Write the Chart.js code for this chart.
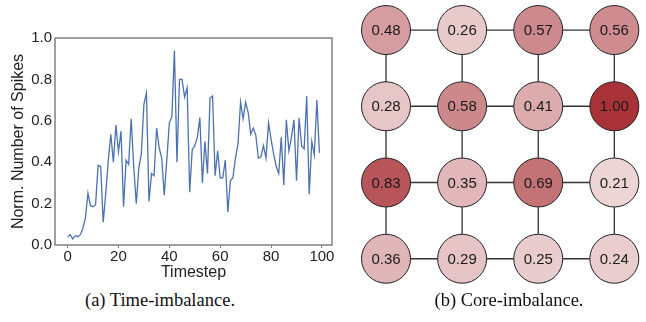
<!DOCTYPE html>
<html>
<head>
<meta charset="utf-8">
<script src="https://cdn.jsdelivr.net/npm/chart.js@4.4.0/dist/chart.umd.min.js"></script>
<style>
  body { margin: 0; background: #fff; width: 646px; height: 322px; position: relative; overflow: hidden; }
  #spikesWrap { position: absolute; left: 0; top: 0; width: 340px; height: 290px; }
  #meshWrap { position: absolute; left: 330px; top: 0; width: 316px; height: 290px; }
  .cap { position: absolute; top: 290px; line-height: 20px; font-family: "Liberation Serif", "Times New Roman", serif;
         font-size: 18.5px; color: #111; transform: translateX(-50%); white-space: nowrap; }
</style>
</head>
<body>
<div id="spikesWrap"><canvas id="spikesChart" width="340" height="290"></canvas></div>
<div id="meshWrap"><canvas id="meshChart" width="316" height="290"></canvas></div>
<div class="cap" style="left:160px">(a) Time-imbalance.</div>
<div class="cap" style="left:509px">(b) Core-imbalance.</div>
<script>
// (a) normalised spike count per timestep
const spikes = [
  0.04, 0.05, 0.03, 0.045, 0.04, 0.05, 0.08, 0.13, 0.25, 0.19,
  0.185, 0.195, 0.385, 0.38, 0.11, 0.25, 0.41, 0.535, 0.40, 0.58,
  0.45, 0.55, 0.185, 0.41, 0.39, 0.61, 0.38, 0.20, 0.37, 0.44,
  0.68, 0.735, 0.21, 0.345, 0.335, 0.565, 0.47, 0.42, 0.24, 0.41,
  0.59, 0.62, 0.94, 0.40, 0.80, 0.80, 0.715, 0.76, 0.255, 0.46,
  0.48, 0.52, 0.615, 0.30, 0.50, 0.345, 0.71, 0.72, 0.335, 0.455,
  0.325, 0.325, 0.41, 0.16, 0.31, 0.325, 0.42, 0.49, 0.69, 0.61,
  0.69, 0.64, 0.535, 0.565, 0.53, 0.42, 0.425, 0.48, 0.42, 0.59,
  0.51, 0.44, 0.38, 0.345, 0.52, 0.29, 0.605, 0.455, 0.52, 0.605,
  0.31, 0.615, 0.48, 0.465, 0.72, 0.245, 0.50, 0.435, 0.70, 0.445
];
const timesteps = spikes.map((v, i) => i);
const xTicks = [0, 20, 40, 60, 80, 100];
const yTicks = [0.0, 0.2, 0.4, 0.6, 0.8, 1.0];

// (b) per-core load on the 4x4 mesh, row by row from the top
const coreLoad = [
  0.48, 0.26, 0.57, 0.56,
  0.28, 0.58, 0.41, 1.00,
  0.83, 0.35, 0.69, 0.21,
  0.36, 0.29, 0.25, 0.24
];
const meshSize = 4;

const sans = '"Liberation Sans", Arial, sans-serif';

const frame = {
  id: 'frame',
  afterDatasetsDraw(chart) {
    const a = chart.chartArea, ctx = chart.ctx;
    ctx.save();
    ctx.strokeStyle = '#808080';
    ctx.lineWidth = 1.5;
    ctx.strokeRect(a.left, a.top, a.right - a.left, a.bottom - a.top);
    ctx.restore();
  }
};

new Chart(document.getElementById('spikesChart'), {
  type: 'line',
  data: {
    datasets: [{
      data: timesteps.map((t, i) => ({ x: t, y: spikes[i] })),
      borderColor: '#4c72b0',
      borderWidth: 1.3,
      pointRadius: 0,
      tension: 0
    }]
  },
  options: {
    responsive: false,
    animation: false,
    events: [],
    layout: { autoPadding: false, padding: { top: 38, right: 8, left: 0, bottom: 0 } },
    plugins: { legend: { display: false }, tooltip: { enabled: false } },
    scales: {
      x: {
        type: 'linear',
        min: -4.95,
        max: 103.95,
        afterFit(s) { s.height = 45; },
        afterBuildTicks(s) { s.ticks = xTicks.map(v => ({ value: v })); },
        grid: { display: true, drawOnChartArea: false, drawTicks: true, tickLength: 3, color: '#808080' },
        border: { display: false },
        ticks: { padding: 0, color: '#222', font: { family: sans, size: 15 }, maxRotation: 0 },
        title: { display: true, text: 'Timestep', color: '#222', font: { family: sans, size: 16 },
                 padding: { top: 0, bottom: 8 } }
      },
      y: {
        min: 0,
        max: 1,
        afterFit(s) { s.width = 55; },
        afterBuildTicks(s) { s.ticks = yTicks.map(v => ({ value: v })); },
        grid: { display: false, drawTicks: false },
        border: { display: false },
        ticks: { padding: 3, color: '#222', font: { family: sans, size: 15 }, callback: v => v.toFixed(1) },
        title: { display: true, text: 'Norm. Number of Spikes', color: '#222', font: { family: sans, size: 16 },
                 padding: { top: 9, bottom: 0 } }
      }
    }
  },
  plugins: [frame]
});

// mesh nodes and links
const nodePoints = coreLoad.map((v, i) => ({
  x: i % meshSize,
  y: meshSize - 1 - Math.floor(i / meshSize)
}));
const loadColor = v => {
  const r = Math.round(255 - v * (255 - 168));
  const g = Math.round(255 - v * (255 - 50));
  const b = Math.round(255 - v * (255 - 56));
  return `rgb(${r},${g},${b})`;
};

const links = [];
for (let k = 0; k < meshSize; k++) {
  const row = nodePoints.filter((p, i) => Math.floor(i / meshSize) === k);
  const col = nodePoints.filter((p, i) => i % meshSize === k);
  [row, col].forEach(pts => links.push({
    type: 'line',
    data: pts,
    borderColor: '#333',
    borderWidth: 1.3,
    pointRadius: 0,
    showLine: true,
    order: 2
  }));
}

const nodeLabels = {
  id: 'nodeLabels',
  afterDatasetsDraw(chart) {
    const meta = chart.getDatasetMeta(0);
    const ctx = chart.ctx;
    ctx.save();
    ctx.font = '15px ' + sans;
    ctx.fillStyle = '#1a1a1a';
    ctx.textAlign = 'center';
    ctx.textBaseline = 'middle';
    meta.data.forEach((pt, i) => ctx.fillText(coreLoad[i].toFixed(2), pt.x, pt.y + 1));
    ctx.restore();
  }
};

new Chart(document.getElementById('meshChart'), {
  type: 'scatter',
  data: {
    datasets: [{
      data: nodePoints,
      pointRadius: 24.5,
      pointBackgroundColor: coreLoad.map(loadColor),
      pointBorderColor: '#222',
      pointBorderWidth: 1,
      order: 1
    }, ...links]
  },
  options: {
    responsive: false,
    animation: false,
    events: [],
    layout: { autoPadding: false, padding: 0 },
    plugins: { legend: { display: false }, tooltip: { enabled: false } },
    scales: {
      x: { type: 'linear', display: false, min: -0.736, max: 3.416 },
      y: { type: 'linear', display: false, min: -0.41, max: 3.394 }
    }
  },
  plugins: [nodeLabels]
});
</script>
</body>
</html>
